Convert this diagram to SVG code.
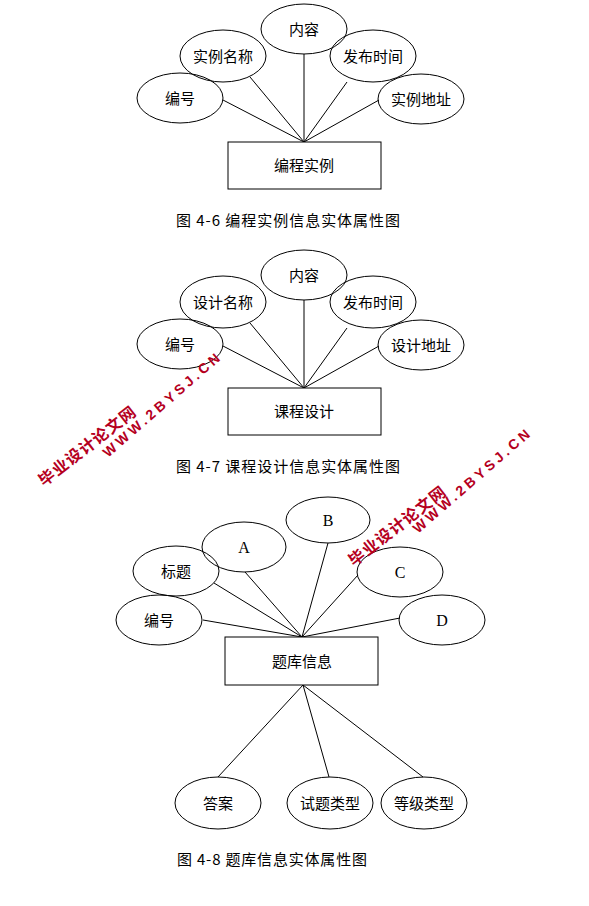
<svg xmlns="http://www.w3.org/2000/svg" width="589" height="906" viewBox="0 0 589 906">
<style>
.e{fill:none;stroke:#000;stroke-width:1}
.r{fill:#fff;stroke:#000;stroke-width:1}
.l{stroke:#000;stroke-width:1;fill:none}
.t{font-family:"Noto Sans CJK SC","Liberation Sans",sans-serif;font-size:15px;text-anchor:middle;fill:#000}
.s{font-family:"Liberation Serif","Noto Sans CJK SC",serif;font-size:16px;text-anchor:middle;fill:#000}
.c{font-family:"Noto Sans CJK SC","Liberation Mono",monospace;font-size:15px;fill:#000}
.w{font-family:"Noto Sans CJK SC","Liberation Sans",sans-serif;font-weight:bold;fill:#b5001e}
.u{font-family:"Liberation Sans",sans-serif;font-weight:bold;fill:#b5001e;font-size:14px;letter-spacing:3.5px}
</style>
<rect width="589" height="906" fill="#fff"/>
<g id="connectors">
<path class="l" d="M223,100L304,142M250,77L304,142M304,54L304,142M347,82L304,142M379,100L304,142"/>
<path class="l" d="M223,346L304,388M250,323L304,388M304,300L304,388M347,328L304,388M379,346L304,388"/>
<path class="l" d="M203,620L302,637M214,583L302,637M245,572L302,637M328,543L302,637M358,575L302,637M400,618L302,637"/>
<path class="l" d="M303,685L218,777M303,685L329,777M303,685L423,777"/>
</g>
<g id="d1">
<g id="d1-neirong"><ellipse class="e" cx="304" cy="29" rx="43" ry="25"/><text class="t" x="304" y="35">内容</text></g>
<g id="d1-name"><ellipse class="e" cx="223" cy="56" rx="43" ry="26"/><text class="t" x="223" y="62">实例名称</text></g>
<g id="d1-time"><ellipse class="e" cx="373" cy="56" rx="43" ry="26"/><text class="t" x="373" y="62">发布时间</text></g>
<g id="d1-id"><ellipse class="e" cx="180" cy="98" rx="43" ry="25"/><text class="t" x="180" y="104">编号</text></g>
<g id="d1-addr"><ellipse class="e" cx="421" cy="99" rx="43" ry="25"/><text class="t" x="421" y="105">实例地址</text></g>
<g id="d1-entity"><rect class="r" x="228" y="142" width="153" height="47"/><text class="t" x="304" y="171">编程实例</text></g>
<text class="c" x="176" y="226" textLength="224" lengthAdjust="spacing">图 4-6 编程实例信息实体属性图</text>
</g>
<g id="d2">
<g id="d2-neirong"><ellipse class="e" cx="304" cy="275" rx="43" ry="25"/><text class="t" x="304" y="281">内容</text></g>
<g id="d2-name"><ellipse class="e" cx="223" cy="302" rx="43" ry="26"/><text class="t" x="223" y="308">设计名称</text></g>
<g id="d2-time"><ellipse class="e" cx="373" cy="302" rx="43" ry="26"/><text class="t" x="373" y="308">发布时间</text></g>
<g id="d2-id"><ellipse class="e" cx="180" cy="344" rx="43" ry="25"/><text class="t" x="180" y="350">编号</text></g>
<g id="d2-addr"><ellipse class="e" cx="421" cy="345" rx="43" ry="25"/><text class="t" x="421" y="351">设计地址</text></g>
<g id="d2-entity"><rect class="r" x="228" y="388" width="153" height="47"/><text class="t" x="304" y="417">课程设计</text></g>
<text class="c" x="176" y="472" textLength="224" lengthAdjust="spacing">图 4-7 课程设计信息实体属性图</text>
</g>
<g id="d3">
<g id="d3-b"><ellipse class="e" cx="328" cy="520" rx="42" ry="23"/><text class="s" x="328" y="526">B</text></g>
<g id="d3-a"><ellipse class="e" cx="244" cy="547" rx="42" ry="25"/><text class="s" x="244" y="553">A</text></g>
<g id="d3-title"><ellipse class="e" cx="176" cy="571" rx="43" ry="25"/><text class="t" x="176" y="577">标题</text></g>
<g id="d3-c"><ellipse class="e" cx="400" cy="572" rx="43" ry="25"/><text class="s" x="400" y="578">C</text></g>
<g id="d3-id"><ellipse class="e" cx="159" cy="620" rx="43" ry="25"/><text class="t" x="159" y="626">编号</text></g>
<g id="d3-d"><ellipse class="e" cx="442" cy="620" rx="43" ry="25"/><text class="s" x="442" y="626">D</text></g>
<g id="d3-entity"><rect class="r" x="225" y="637" width="153" height="48"/><text class="t" x="302" y="667">题库信息</text></g>
<g id="d3-answer"><ellipse class="e" cx="218" cy="803" rx="43" ry="26"/><text class="t" x="218" y="809">答案</text></g>
<g id="d3-qtype"><ellipse class="e" cx="330" cy="803" rx="43" ry="26"/><text class="t" x="330" y="809">试题类型</text></g>
<g id="d3-level"><ellipse class="e" cx="424" cy="803" rx="43" ry="26"/><text class="t" x="424" y="809">等级类型</text></g>
<text class="c" x="177" y="865" textLength="190" lengthAdjust="spacing">图 4-8 题库信息实体属性图</text>
</g>
<g id="watermark1">
<text class="w" font-size="16" letter-spacing="1" transform="translate(44,487) rotate(-38)">毕业设计论文网</text>
<text class="u" transform="translate(108,458) rotate(-41)">WWW.2BYSJ.CN</text>
</g>
<g id="watermark2">
<text class="w" font-size="16" letter-spacing="1" transform="translate(354,567) rotate(-38)">毕业设计论文网</text>
<text class="u" transform="translate(418,534) rotate(-41)">WWW.2BYSJ.CN</text>
</g>
</svg>
